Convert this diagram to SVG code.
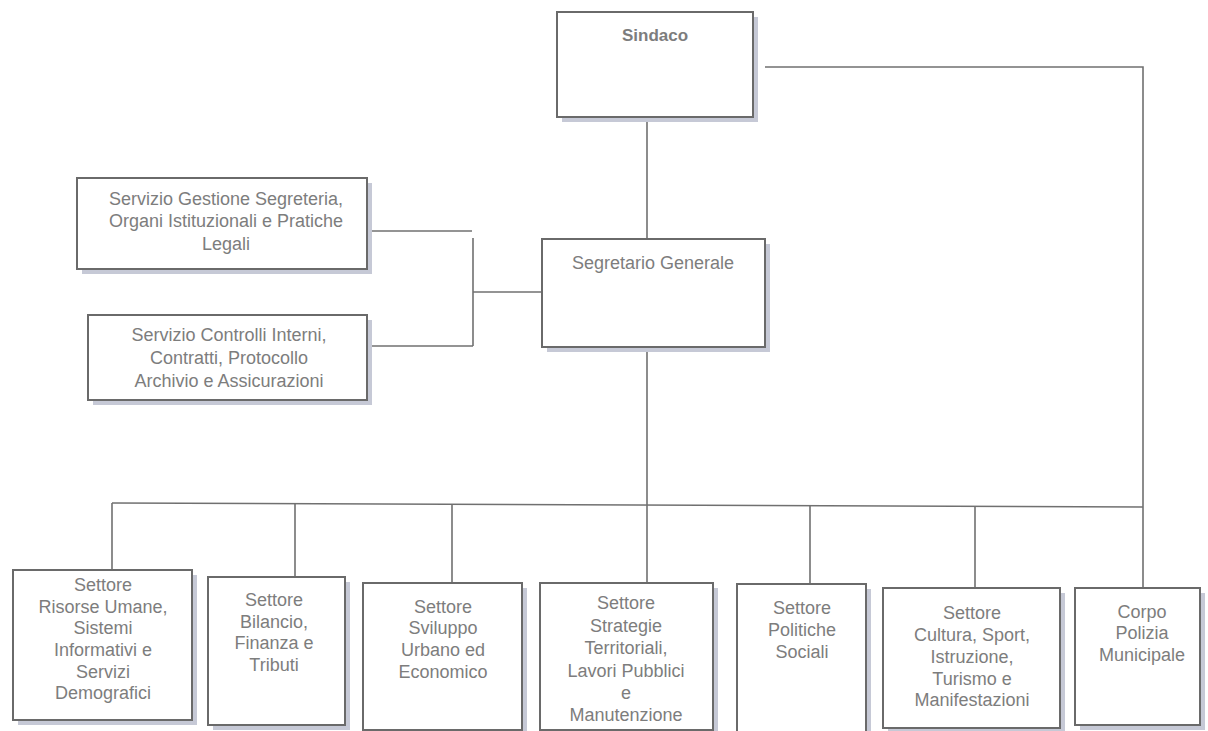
<svg xmlns="http://www.w3.org/2000/svg" width="1208" height="731" viewBox="0 0 1208 731">
<style>
  .shadow { fill: #c6c9d6; }
  .box { fill: #ffffff; stroke: #6a6a6a; stroke-width: 2; }
  .t { font-family: "Liberation Sans", Arial, sans-serif; font-size: 18px; fill: #7d7d7d; text-anchor: middle; }
  .tb { font-weight: bold; font-size: 17px; }
  .con line, .con polyline { stroke: #707070; stroke-width: 1.6; fill: none; }
</style>
<rect width="1208" height="731" fill="#ffffff"/>
<g id="connectors" class="con">
  <line x1="647" y1="117" x2="647" y2="239"/>
  <polyline points="765,67 1143,67 1143,588"/>
  <line x1="647" y1="347" x2="647" y2="505"/>
  <line x1="112" y1="503" x2="1143" y2="507"/>
  <line x1="112" y1="503" x2="112" y2="570"/>
  <line x1="295" y1="504" x2="295" y2="577"/>
  <line x1="452" y1="504" x2="452" y2="583"/>
  <line x1="647" y1="505" x2="647" y2="583"/>
  <line x1="810" y1="506" x2="810" y2="584"/>
  <line x1="975" y1="506" x2="975" y2="588"/>
  <line x1="367" y1="231" x2="472" y2="231"/>
  <line x1="473" y1="238" x2="473" y2="346"/>
  <line x1="367" y1="346" x2="473" y2="346"/>
  <line x1="473" y1="292" x2="542" y2="292"/>
</g>
<g id="sindaco">
  <rect class="shadow" x="562" y="17" width="196" height="105"/>
  <rect class="box" x="557" y="12" width="196" height="105"/>
  <text class="t tb" x="655" y="41">Sindaco</text>
</g>
<g id="segretario">
  <rect class="shadow" x="547" y="244" width="223" height="108"/>
  <rect class="box" x="542" y="239" width="223" height="108"/>
  <text class="t" x="653" y="269">Segretario Generale</text>
</g>
<g id="servizio-segreteria">
  <rect class="shadow" x="82" y="183" width="290" height="91"/>
  <rect class="box" x="77" y="178" width="290" height="91"/>
  <text class="t" x="226"><tspan x="226" y="205">Servizio Gestione Segreteria,</tspan><tspan x="226" y="227">Organi Istituzionali e Pratiche</tspan><tspan x="226" y="250">Legali</tspan></text>
</g>
<g id="servizio-controlli">
  <rect class="shadow" x="93" y="320" width="279" height="85"/>
  <rect class="box" x="88" y="315" width="279" height="85"/>
  <text class="t" x="229"><tspan x="229" y="341">Servizio Controlli Interni,</tspan><tspan x="229" y="364">Contratti,  Protocollo</tspan><tspan x="229" y="387">Archivio e Assicurazioni</tspan></text>
</g>
<g id="settore-risorse">
  <rect class="shadow" x="18" y="575" width="179" height="150"/>
  <rect class="box" x="13" y="570" width="179" height="150"/>
  <text class="t"><tspan x="103" y="591">Settore</tspan><tspan x="103" y="613">Risorse Umane,</tspan><tspan x="103" y="634">Sistemi</tspan><tspan x="103" y="656">Informativi e</tspan><tspan x="103" y="678">Servizi</tspan><tspan x="103" y="699">Demografici</tspan></text>
</g>
<g id="settore-bilancio">
  <rect class="shadow" x="213" y="582" width="137" height="148"/>
  <rect class="box" x="208" y="577" width="137" height="148"/>
  <text class="t"><tspan x="274" y="606">Settore</tspan><tspan x="274" y="628">Bilancio,</tspan><tspan x="274" y="649">Finanza e</tspan><tspan x="274" y="671">Tributi</tspan></text>
</g>
<g id="settore-sviluppo">
  <rect class="shadow" x="368" y="588" width="159" height="148"/>
  <rect class="box" x="363" y="583" width="159" height="147"/>
  <text class="t"><tspan x="443" y="613">Settore</tspan><tspan x="443" y="634">Sviluppo</tspan><tspan x="443" y="656">Urbano ed</tspan><tspan x="443" y="678">Economico</tspan></text>
</g>
<g id="settore-strategie">
  <rect class="shadow" x="545" y="588" width="173" height="148"/>
  <rect class="box" x="540" y="583" width="173" height="147"/>
  <text class="t"><tspan x="626" y="609">Settore</tspan><tspan x="626" y="632">Strategie</tspan><tspan x="626" y="654">Territoriali,</tspan><tspan x="626" y="677">Lavori Pubblici</tspan><tspan x="626" y="699">e</tspan><tspan x="626" y="721">Manutenzione</tspan></text>
</g>
<g id="settore-politiche">
  <rect class="shadow" x="742" y="589" width="129" height="148"/>
  <rect class="box" x="737" y="584" width="129" height="148"/>
  <text class="t"><tspan x="802" y="614">Settore</tspan><tspan x="802" y="636">Politiche</tspan><tspan x="802" y="658">Sociali</tspan></text>
</g>
<g id="settore-cultura">
  <rect class="shadow" x="888" y="593" width="177" height="140"/>
  <rect class="box" x="883" y="588" width="177" height="140"/>
  <text class="t"><tspan x="972" y="619">Settore</tspan><tspan x="972" y="641">Cultura, Sport,</tspan><tspan x="972" y="663">Istruzione,</tspan><tspan x="972" y="685">Turismo e</tspan><tspan x="972" y="706">Manifestazioni</tspan></text>
</g>
<g id="corpo-polizia">
  <rect class="shadow" x="1080" y="593" width="125" height="137"/>
  <rect class="box" x="1075" y="588" width="125" height="137"/>
  <text class="t"><tspan x="1142" y="618">Corpo</tspan><tspan x="1142" y="639">Polizia</tspan><tspan x="1142" y="661">Municipale</tspan></text>
</g>
</svg>
